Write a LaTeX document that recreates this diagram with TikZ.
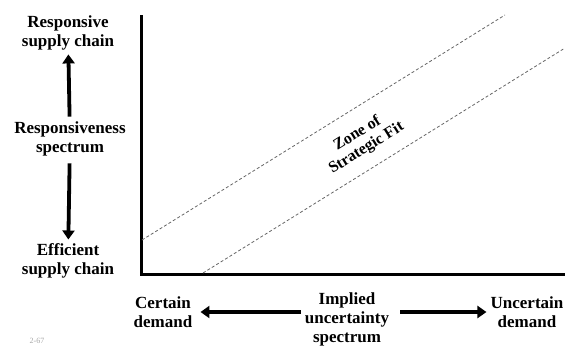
\documentclass[tikz,border=0pt]{standalone}
\usepackage{fontspec}
\setmainfont{Liberation Serif}
\usepackage{tikz}
\usetikzlibrary{positioning, calc, arrows.meta}

\begin{document}
\begin{tikzpicture}[x=1pt, y=-1pt,
    txt/.style={align=center, font=\fontsize{17}{19}\selectfont\bfseries, inner sep=4pt},
    bigarrow/.style={line width=3.8pt, -{Triangle[width=12pt, length=9pt]}},
    fitline/.style={gray!80!black, line width=0.8pt, dash pattern=on 3pt off 2.2pt}]
  \useasboundingbox (0,0) rectangle (565,346);
  % axes
  \coordinate (ytop) at (141,15);
  \coordinate (orig) at (141,274);
  \coordinate (xend) at (565,274);
  \draw[line width=3pt, line join=miter] (ytop) -- (orig) -- (xend);
  % zone of strategic fit
  \coordinate (upA) at (142,240);
  \coordinate (upB) at (505,15);
  \coordinate (loA) at (203,273);
  \coordinate (loB) at (565,48);
  \draw[fitline] (upA) -- (upB);
  \draw[fitline] (loA) -- (loB);
  \node[txt, font=\fontsize{16}{17}\selectfont\bfseries, rotate=32] (zone) at (362,141) {Zone of\\Strategic Fit};
  % responsiveness spectrum
  \node[txt] (resp) at (68,33) {Responsive\\supply chain};
  \node[txt] (spec) at (70,139) {Responsiveness\\spectrum};
  \node[txt] (eff) at (68,261) {Efficient\\supply chain};
  \draw[bigarrow, shorten <=1pt] (spec) -- (resp);
  \draw[bigarrow, shorten <=3pt] (spec) -- (eff);
  % implied uncertainty spectrum
  \node[txt] (cert) at (163,312) {Certain\\demand};
  \node[txt] (impl) at (347,319) {Implied\\uncertainty\\spectrum};
  \node[txt] (unc) at (527,312) {Uncertain\\demand};
  \draw[bigarrow, shorten >=4pt] (cert.east -| impl.west) -- (cert.east);
  \draw[bigarrow, shorten <=7pt] (unc.west -| impl.east) -- (unc.west);
  \node[gray!70, font=\fontsize{8}{9}\selectfont] (page) at (37,341) {2-67};
\end{tikzpicture}
\end{document}
